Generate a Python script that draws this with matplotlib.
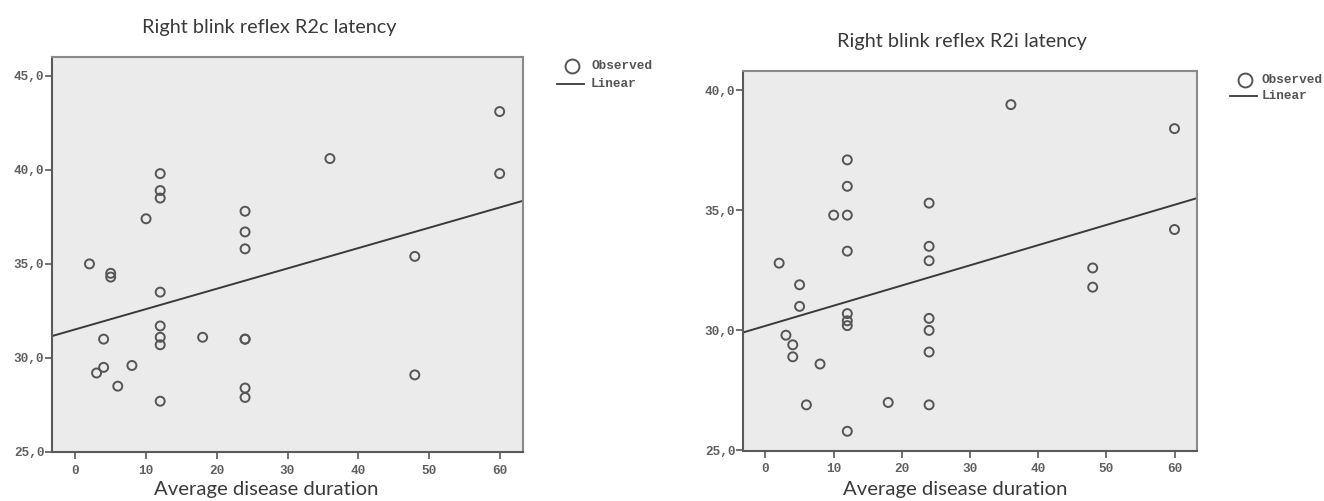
import matplotlib
matplotlib.use("Agg")
import matplotlib.pyplot as plt
from matplotlib.lines import Line2D
import numpy as np

# ---------------- data ----------------
duration = [2, 3, 4, 4, 5, 5, 6, 8, 10,
            12, 12, 12, 12, 12, 12, 12, 12,
            18,
            24, 24, 24, 24, 24, 24, 24,
            36, 48, 48, 60, 60]

r2c_latency = [35.0, 29.2, 31.0, 29.5, 34.5, 34.3, 28.5, 29.6, 37.4,
               39.8, 38.9, 38.5, 33.5, 31.7, 31.1, 30.7, 27.7,
               31.1,
               37.8, 36.7, 35.8, 31.0, 31.0, 28.4, 27.9,
               40.6, 35.4, 29.1, 43.1, 39.8]

r2i_latency = [32.8, 29.8, 29.4, 28.9, 31.9, 31.0, 26.9, 28.6, 34.8,
               37.1, 36.0, 34.8, 33.3, 30.7, 30.4, 30.2, 25.8,
               27.0,
               35.3, 33.5, 32.9, 30.5, 30.0, 29.1, 26.9,
               39.4, 32.6, 31.8, 38.4, 34.2]

# linear fit coefficients (intercept, slope)
r2c_fit = (31.52, 0.108)
r2i_fit = (30.19, 0.084)

titles = ["Right blink reflex R2c latency", "Right blink reflex R2i latency"]
xlabel = "Average disease duration"
x_ticks = [0, 10, 20, 30, 40, 50, 60]
y_ticks_left = [25, 30, 35, 40, 45]
y_ticks_right = [25, 30, 35, 40]
legend_labels = ["Observed", "Linear"]

# ---------------- figure ----------------
W, H = 1324, 501
fig = plt.figure(figsize=(W / 100, H / 100), dpi=100)

def px_axes(x0, y0, x1, y1):
    return fig.add_axes([x0 / W, 1 - y1 / H, (x1 - x0) / W, (y1 - y0) / H])

ax1 = px_axes(52, 57, 523, 452)
ax2 = px_axes(743, 71, 1197, 450.5)

frame_col = "#5a5a5a"
pt_col = "#555555"
tick_font = dict(family="Liberation Mono", weight="bold", size=9.2, color="#606060")

def style(ax, yticks, ylim, xlim):
    ax.set_facecolor("#ebebeb")
    ax.set_xlim(*xlim)
    ax.set_ylim(*ylim)
    ax.set_xticks(x_ticks)
    ax.set_yticks(yticks)
    ax.set_xticklabels([str(t) for t in x_ticks], fontdict=tick_font)
    ax.set_yticklabels([f"{t:.1f}".replace(".", ",") for t in yticks], fontdict=tick_font)
    for s in ax.spines.values():
        s.set_color(frame_col)
        s.set_linewidth(1.5)
    ax.spines["top"].set_color("#8a8a8a")
    ax.spines["right"].set_color("#8a8a8a")
    ax.tick_params(axis="y", direction="out", length=5, width=1.2, color=frame_col, pad=0.5)
    ax.tick_params(axis="x", direction="out", length=5, width=1.2, color=frame_col, pad=4)

def draw(ax, y, fit, yticks, ylim):
    xlim = (-3.3, 63.3)
    style(ax, yticks, ylim, xlim)
    ax.scatter(duration, y, s=42, facecolors="none", edgecolors=pt_col, linewidths=1.4, zorder=3)
    xs = np.array(xlim)
    ax.plot(xs, fit[0] + fit[1] * xs, color="#3a3a3a", lw=1.4, zorder=2)

draw(ax1, r2c_latency, r2c_fit, y_ticks_left, (25, 46))
draw(ax2, r2i_latency, r2i_fit, y_ticks_right, (25, 40.8))

title_kw = dict(family="Lato", size=14.3, color="#3a3a3a", ha="center", va="center")
xlab_kw = dict(title_kw, size=14.6)
fig.text(269 / W, 1 - 27 / H, titles[0], **title_kw)
fig.text(962 / W, 1 - 42 / H, titles[1], **title_kw)
fig.text(266 / W, 1 - 489 / H, xlabel, **xlab_kw)
fig.text(955 / W, 1 - 489 / H, xlabel, **xlab_kw)

# legends
leg_font = dict(family="Liberation Mono", weight="bold", size=9.2, color="#555555", va="center")

def legend(cx, cy_circle, cy_line, lx0, lx1, tx):
    fig.add_artist(Line2D([cx / W], [1 - cy_circle / H], marker="o", markersize=10,
                          markerfacecolor="none", markeredgecolor=pt_col, markeredgewidth=1.4,
                          linestyle="none", transform=fig.transFigure))
    fig.add_artist(Line2D([lx0 / W, lx1 / W], [1 - cy_line / H] * 2, color="#3a3a3a", lw=1.3,
                          transform=fig.transFigure))
    fig.text(tx / W, 1 - cy_circle / H, legend_labels[0], **leg_font)
    fig.text(tx / W, 1 - cy_line / H, legend_labels[1], **leg_font)

legend(572, 66, 84, 557, 584, 591)
legend(1245, 80, 96, 1230, 1257, 1262)

fig.savefig("out.png", dpi=100, facecolor="white")
